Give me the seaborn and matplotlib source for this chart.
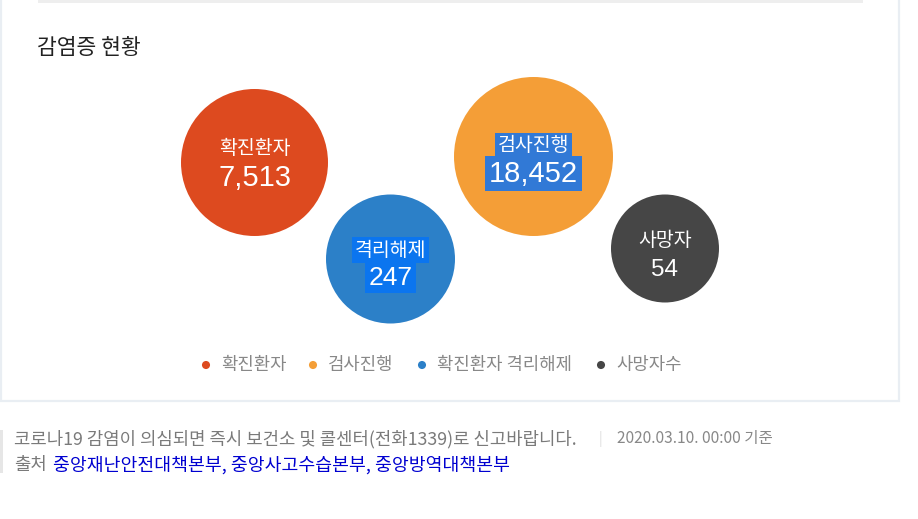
import numpy as np
import pandas as pd
import matplotlib
matplotlib.use("Agg")
import matplotlib.pyplot as plt
from matplotlib.patches import Rectangle
import seaborn as sns

# ── data ─────────────────────────────────────────────
categories = ["확진환자", "검사진행", "격리해제", "사망자"]
values = [7513, 18452, 247, 54]
legend_labels = ["확진환자", "검사진행", "확진환자 격리해제", "사망자수"]
colors = ["#dd4a1f", "#f49e37", "#2c80c8", "#464646"]

title = "감염증 현황"
notice = "코로나19 감염이 의심되면 즉시 보건소 및 콜센터(전화1339)로 신고바랍니다."
stamp = "2020.03.10. 00:00 기준"
source_label = "출처"
sources = ["중앙재난안전대책본부", "중앙사고수습본부", "중앙방역대책본부"]

# ── layout (pixel space, y down) ─────────────────────
W, H, DPI = 918, 519, 100
bubble_x = [254.5, 533.5, 390.5, 665]
bubble_y = [162.5, 156.5, 259, 248.5]
bubble_r = [73.5, 79.5, 64.5, 54]
label_dy = [-14, -11, -9, -8]
num_dy = [16, 17, 19, 21]
num_fs = [21, 21, 19, 17.5]
highlight = [None, "#3179d6", "#0b75ef", None]   # selected-text boxes
legend_dot_x = [206, 313, 422, 601]
legend_y = 365

KR = ["Noto Sans CJK KR", "DejaVu Sans"]
NUM = ["Liberation Sans", "Noto Sans CJK KR"]

sns.set_theme(style="white")
plt.rcParams["font.family"] = KR

fig = plt.figure(figsize=(W / DPI, H / DPI), dpi=DPI, facecolor="white")
ax = fig.add_axes([0, 0, 1, 1])

# card frame
ax.add_patch(Rectangle((1, -5), 898, 406, fill=False, edgecolor="#e9eef3", lw=1.6, zorder=0))
ax.add_patch(Rectangle((38, 0), 825, 3, facecolor="#eeeeee", edgecolor="none", zorder=0))

ax.text(37, 48, title, fontsize=15.5, color="#222222", va="center", ha="left")

# bubbles
df = pd.DataFrame({"category": categories, "value": values,
                   "x": bubble_x, "y": bubble_y})
px2pt = 72 / DPI
sizes = {c: (2 * r * px2pt) ** 2 for c, r in zip(categories, bubble_r)}
sns.scatterplot(data=df, x="x", y="y", hue="category", size="category",
                palette=dict(zip(categories, colors)), sizes=sizes,
                linewidth=0, legend=False, ax=ax, zorder=2)

for i, row in df.iterrows():
    hl = highlight[i]
    ax.text(row.x, row.y + label_dy[i], row.category, color="white", fontsize=14,
            ha="center", va="center", zorder=3,
            bbox=dict(boxstyle="square,pad=0.12", facecolor=hl, edgecolor="none") if hl else None)
    ax.text(row.x, row.y + num_dy[i], f"{row.value:,}", color="white",
            fontsize=num_fs[i], family=NUM, ha="center", va="center", zorder=3,
            bbox=dict(boxstyle="square,pad=0.12", facecolor=hl, edgecolor="none") if hl else None)

# legend
sns.scatterplot(x=legend_dot_x, y=[legend_y] * 4, hue=legend_labels,
                palette=dict(zip(legend_labels, colors)), s=34, linewidth=0,
                legend=False, ax=ax, zorder=2)
for x, lab in zip(legend_dot_x, legend_labels):
    ax.text(x + 15, legend_y, lab, color="#888888", fontsize=12.8, ha="left", va="center")

# footer
ax.add_patch(Rectangle((0, 430), 3, 43, facecolor="#e6e6e6", edgecolor="none"))
ax.text(14, 439, notice, color="#7a7a7a", fontsize=12.8, ha="left", va="center")
ax.text(600, 439, "|", color="#dddddd", fontsize=10, ha="center", va="center")
ax.text(617, 439, stamp, color="#888888", fontsize=11.2, ha="left", va="center")
ax.text(14, 465, source_label, color="#7a7a7a", fontsize=12.8, ha="left", va="center")
ax.text(53, 465, ", ".join(sources), color="#0000d0", fontsize=13.2, ha="left", va="center")

ax.set_xlim(0, W)
ax.set_ylim(H, 0)
ax.axis("off")

fig.savefig("out.png", dpi=DPI, facecolor="white")
